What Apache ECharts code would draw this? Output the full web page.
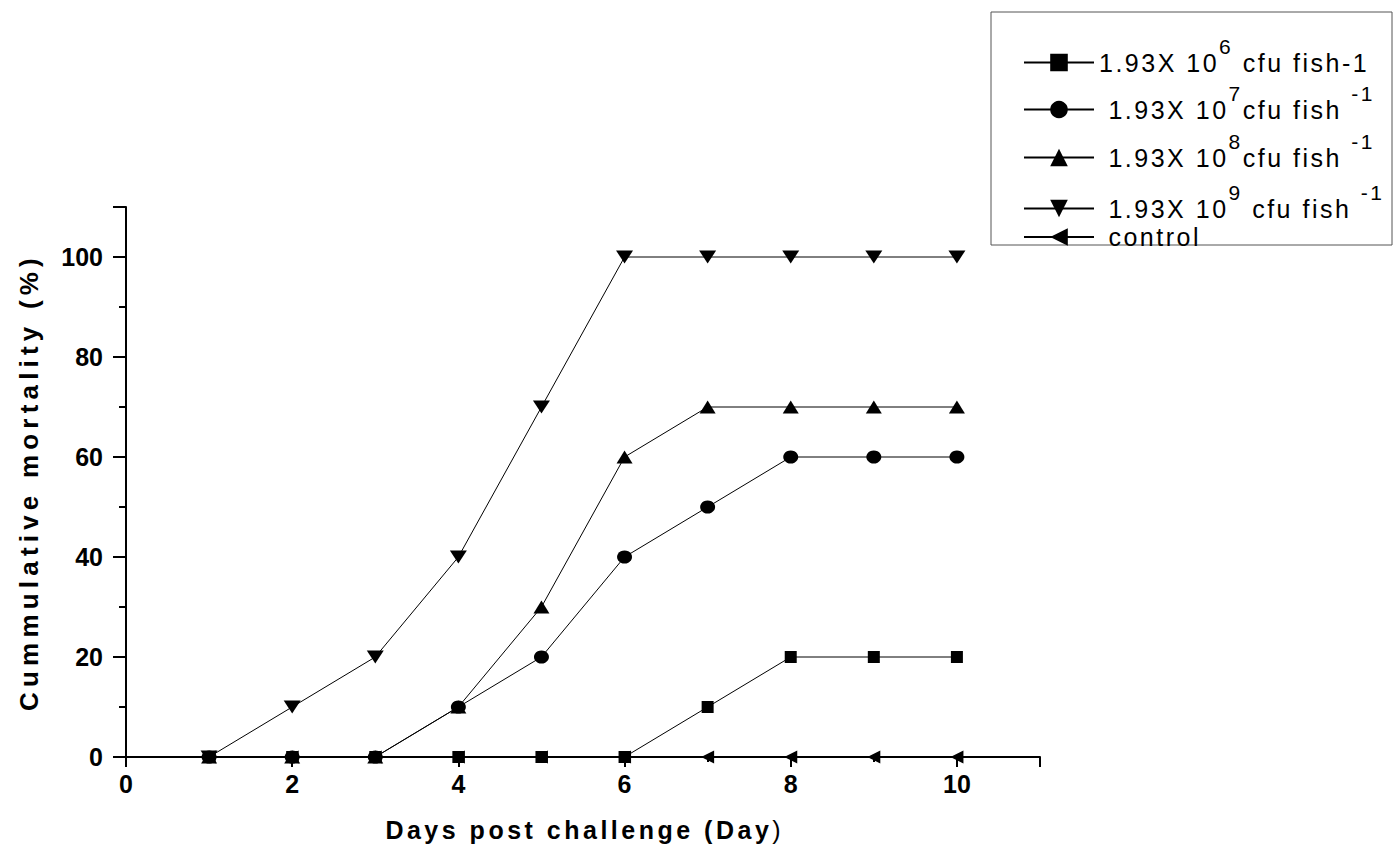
<!DOCTYPE html>
<html>
<head>
<meta charset="utf-8">
<script src="https://cdn.jsdelivr.net/npm/echarts@6/dist/echarts.min.js"></script>
<style>html,body{margin:0;padding:0;background:#fff;}#c{width:1393px;height:847px;}</style>
</head>
<body>
<div id="c"></div>
<script>
const days = [1, 2, 3, 4, 5, 6, 7, 8, 9, 10];
const seriesNames = ['1.93X 10^6 cfu fish-1', '1.93X 10^7 cfu fish -1', '1.93X 10^8 cfu fish -1', '1.93X 10^9 cfu fish -1', 'control'];
// legend label pieces: [main, sup, main, sup]
const legendPieces = [
  ['1.93X 10', '6', ' cfu fish-1', ''],
  [' 1.93X 10', '7', 'cfu fish ', '-1'],
  [' 1.93X 10', '8', 'cfu fish ', '-1'],
  [' 1.93X 10', '9', ' cfu fish ', '-1'],
  [' control', '', '', '']
];
const dose6 = [0, 0, 0, 0, 0, 0, 10, 20, 20, 20];
const dose7 = [0, 0, 0, 10, 20, 40, 50, 60, 60, 60];
const dose8 = [0, 0, 0, 10, 30, 60, 70, 70, 70, 70];
const dose9 = [0, 10, 20, 40, 70, 100, 100, 100, 100, 100];
const control = [0, 0, 0, 0, 0, 0, 0, 0, 0, 0];
const yTicks = [0, 20, 40, 60, 80, 100];
const xTicks = [0, 2, 4, 6, 8, 10];
const xTitleMain = 'Days post challenge (Day';
const xTitleEnd = ')';
const yTitle = 'Cummulative mortality (%)';

const allData = [dose6, dose7, dose8, dose9, control];
const symbols = ['rect', 'circle', 'triangle', 'path://M0,0 L10,0 L5,10 Z', 'path://M0,5 L10,0 L10,10 Z'];
const sizes = [[12, 12], [15, 13], [16, 13], [17, 13], [13, 13]];
const legendCenters = [60, 107, 155, 206, 237];

const FONT = 'Liberation Sans, Arial, sans-serif';
const LS_LEGEND = 2.5, LS_X = 3.5, LS_Y = 5.2;

const chart = echarts.init(document.getElementById('c'), null, { renderer: 'svg' });
const series = allData.map((d, i) => ({
  name: seriesNames[i],
  type: 'line',
  data: days.map((x, j) => [x, d[j]]),
  symbol: symbols[i],
  symbolSize: sizes[i],
  showAllSymbol: true,
  lineStyle: { color: '#000', width: 1 },
  itemStyle: { color: '#000', borderWidth: 0 },
  emphasis: { disabled: true },
  z: 2 + i
}));

const SUP_P = 18, SUP_LH = 16;
const legends = seriesNames.map((n, i) => {
  const p = legendPieces[i];
  const hasSup = p[1] !== '';
  let label = '{m|' + p[0] + '}';
  if (p[1]) label += '{s1|' + p[1] + '}';
  if (p[2]) label += '{a|' + p[2] + '}';
  if (p[3]) label += '{s2|' + p[3] + '}';
  return {
    data: [n],
    left: 1023,
    top: legendCenters[i] - (hasSup ? 24 : 12.5),
    padding: 0,
    itemWidth: 70,
    itemHeight: 22,
    selectedMode: false,
    formatter: () => label,
    textStyle: {
      fontFamily: FONT, fontSize: 25, color: '#000',
      rich: {
        m: { fontFamily: FONT, fontSize: 25, lineHeight: 25, color: '#000', verticalAlign: 'middle', align: 'left' },
        s1: { fontFamily: FONT, fontSize: 21, lineHeight: SUP_LH, color: '#000', verticalAlign: 'bottom', align: 'left',
              padding: [0, 0, SUP_P, p[0].length * LS_LEGEND] },
        a: { fontFamily: FONT, fontSize: 25, lineHeight: 25, color: '#000', verticalAlign: 'middle', align: 'left',
             padding: [0, 0, 0, p[1].length * LS_LEGEND] },
        s2: { fontFamily: FONT, fontSize: 21, lineHeight: SUP_LH, color: '#000', verticalAlign: 'bottom', align: 'left',
              padding: [0, 0, SUP_P, p[2].length * LS_LEGEND] }
      }
    }
  };
});

chart.setOption({
  animation: false,
  backgroundColor: '#fff',
  grid: { left: 126, top: 207, width: 914, height: 553, containLabel: false },
  legend: legends,
  graphic: [{
    type: 'rect', shape: { x: 991, y: 12, width: 401, height: 233 },
    style: { fill: 'none', stroke: '#555', lineWidth: 1 }, silent: true
  }],
  xAxis: {
    type: 'value', min: 0, max: 11, interval: 2,
    name: '{b|' + xTitleMain + '}{r|' + xTitleEnd + '}',
    nameLocation: 'middle', nameGap: 60,
    nameTextStyle: { rich: {
      b: { fontFamily: FONT, fontWeight: 'bold', fontSize: 25, color: '#000', align: 'left' },
      r: { fontFamily: FONT, fontSize: 25, color: '#000', align: 'left', padding: [0, 0, 0, xTitleMain.length * LS_X] }
    } },
    axisLine: { lineStyle: { color: '#000', width: 2 } },
    axisTick: { length: 10, lineStyle: { color: '#000', width: 2 } },
    minorTick: { show: true, splitNumber: 2, length: 5, lineStyle: { color: '#000', width: 2 } },
    splitLine: { show: false },
    axisLabel: { fontFamily: FONT, fontWeight: 'bold', fontSize: 25, color: '#000', margin: 14,
      formatter: v => xTicks.includes(v) ? String(v) : '' }
  },
  yAxis: {
    type: 'value', min: 0, max: 110, interval: 20,
    name: yTitle,
    nameLocation: 'middle', nameGap: 84, nameRotate: 90,
    nameTextStyle: { fontFamily: FONT, fontWeight: 'bold', fontSize: 26, color: '#000' },
    axisLine: { show: true, lineStyle: { color: '#000', width: 2 } },
    axisTick: { show: true, length: 13, lineStyle: { color: '#000', width: 2 } },
    minorTick: { show: true, splitNumber: 2, length: 7, lineStyle: { color: '#000', width: 2 } },
    splitLine: { show: false },
    axisLabel: { fontFamily: FONT, fontWeight: 'bold', fontSize: 25, color: '#000', margin: 23,
      formatter: v => yTicks.includes(v) ? String(v) : '' }
  },
  series: series
});

function applySpacing() {
  document.querySelectorAll('#c svg text').forEach(t => {
    const s = t.textContent;
    const bold = parseInt(getComputedStyle(t).fontWeight, 10) >= 600;
    let ls = 0;
    if (s === yTitle) ls = LS_Y;
    else if (s === xTitleMain) ls = LS_X;
    else if (s === xTitleEnd) ls = 0;
    else if (bold) ls = 0;
    else ls = LS_LEGEND;
    t.setAttribute('letter-spacing', ls);
    t.style.letterSpacing = ls + 'px';
  });
}
chart.getZr().flush();
applySpacing();
chart.on('finished', applySpacing);
setTimeout(applySpacing, 50);
setTimeout(applySpacing, 300);
</script>
</body>
</html>
